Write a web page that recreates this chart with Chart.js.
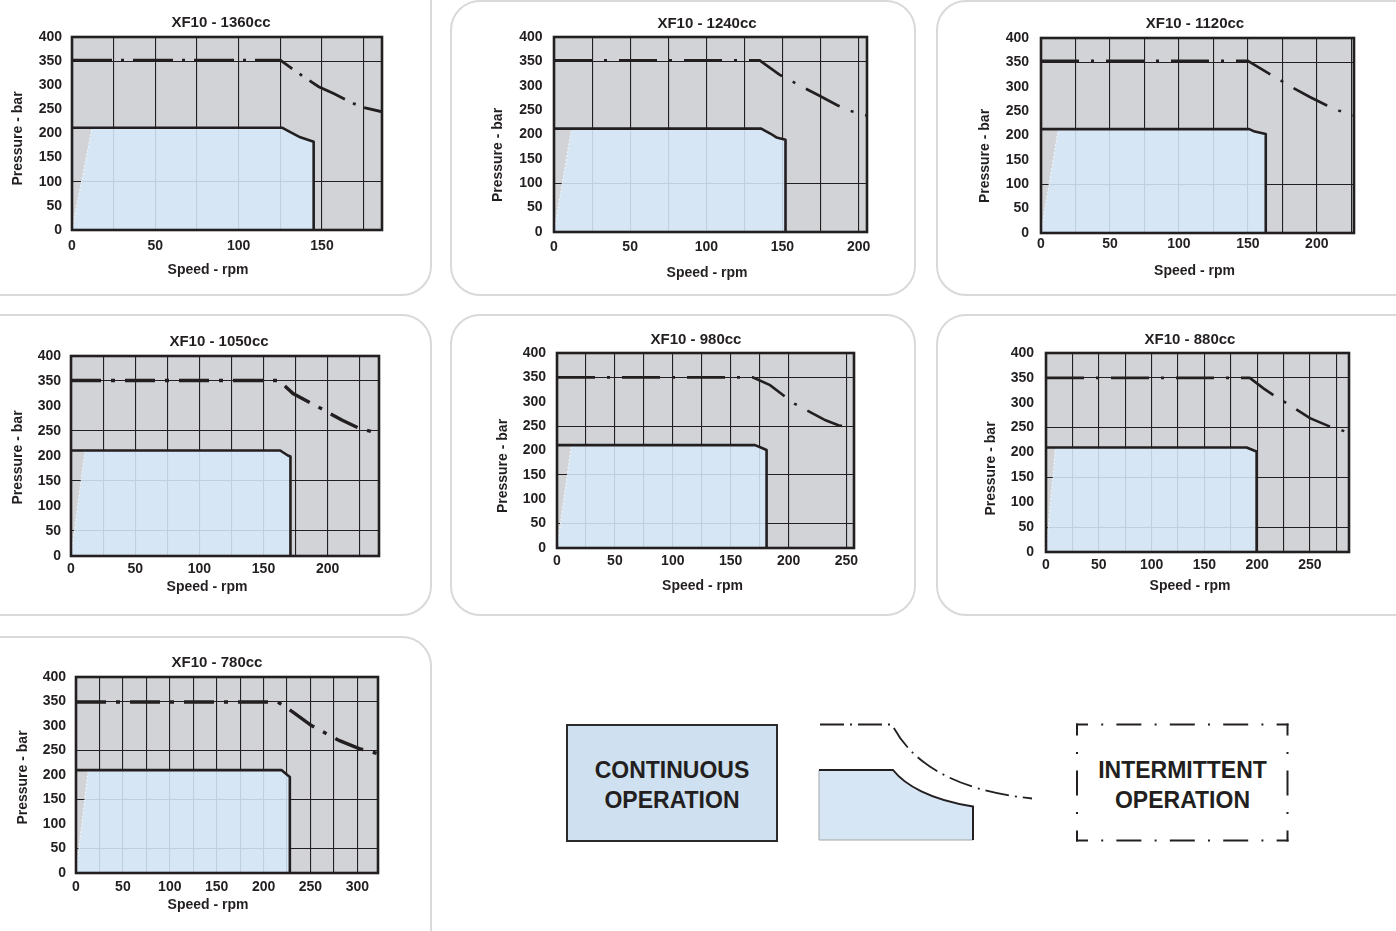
<!DOCTYPE html>
<html lang="en">
<head>
<meta charset="utf-8">
<title>XF10 – Pressure vs Speed</title>
<script src="https://cdn.jsdelivr.net/npm/chart.js@4.4.1/dist/chart.umd.min.js"></script>
<style>
  html, body { margin: 0; padding: 0; background: #fff; }
  body { width: 1396px; height: 931px; overflow: hidden; position: relative;
         font-family: "Liberation Sans", Arial, Helvetica, sans-serif; color: #231f20; }
  .card { position: absolute; box-sizing: border-box; border: 2px solid #d9d9d9; border-radius: 30px; background: #fff; }
  .panel { position: absolute; }
  .key-box { position: absolute; box-sizing: border-box; left: 566px; top: 724px; width: 212px; height: 118px;
             background: #cfe0f1; border: 2px solid #2b2b2b; }
  .key-text { position: absolute; text-align: center; font-weight: bold; font-size: 23px; line-height: 30px; }
  #key { position: absolute; left: 0; top: 0; }
</style>
</head>
<body>

<!-- panel cards -->
<div class="card" style="left:-40px;top:-40px;width:472px;height:336px"></div>
<div class="card" style="left:450px;top:0px;width:466px;height:296px"></div>
<div class="card" style="left:936px;top:0px;width:500px;height:296px"></div>
<div class="card" style="left:-40px;top:314px;width:472px;height:302px"></div>
<div class="card" style="left:450px;top:314px;width:466px;height:302px"></div>
<div class="card" style="left:936px;top:314px;width:500px;height:302px"></div>
<div class="card" style="left:-40px;top:636px;width:472px;height:400px"></div>

<!-- key -->
<div class="key-box"></div>
<svg id="key" width="1396" height="931" viewBox="0 0 1396 931">
  <path d="M819,770 L893,770 C905,785 930,800 973,806.5 L973,840 L819,840 Z" fill="#d6e6f4" stroke="none"/>
  <path d="M819,770 L819,840 L973,840" fill="none" stroke="#a6a6a6" stroke-width="1"/>
  <path d="M819,770 L893,770 C905,785 930,800 973,806.5 L973,840" fill="none" stroke="#231f20" stroke-width="2"/>
  <path d="M820,724.5 L892,724.5 C910,760 950,790 1032,798.5" fill="none" stroke="#231f20" stroke-width="1.8" stroke-dasharray="24 6 2 6"/>
  <g fill="none" stroke="#231f20" stroke-width="2">
    <path d="M1076,724.5 H1288.5" stroke-dasharray="25 13.2 2 13.2" stroke-dashoffset="13"/>
    <path d="M1076,840.5 H1288.5" stroke-dasharray="25 13.2 2 13.2" stroke-dashoffset="13"/>
    <path d="M1077,723.5 V841.5" stroke-dasharray="25 16.5 2 16.5" stroke-dashoffset="13"/>
    <path d="M1287.5,723.5 V841.5" stroke-dasharray="25 16.5 2 16.5" stroke-dashoffset="13"/>
  </g>
</svg>
<div class="key-text" style="left:566px;top:755px;width:212px">CONTINUOUS<br>OPERATION</div>
<div class="key-text" style="left:1077px;top:755px;width:211px">INTERMITTENT<br>OPERATION</div>

<script>
// ---- data: speed in rpm, pressure in bar ----
const titles = ['XF10 - 1360cc', 'XF10 - 1240cc', 'XF10 - 1120cc', 'XF10 - 1050cc', 'XF10 - 980cc', 'XF10 - 880cc', 'XF10 - 780cc'];
const speedMax = [186, 205.5, 227, 240, 256.5, 287, 322];
const rampSpeed = [12, 11.5, 12.5, 11, 12.4, 9, 13];
const pressureMax = 400;
const pressureStep = 50;
const speedLabelStep = 50;
const speedGridStep = 25;
const xAxisTitle = 'Speed - rpm';
const yAxisTitle = 'Pressure - bar';

// continuous operation envelope
const cont1360Speed = [0, 126, 131, 137, 145, 145];
const cont1360Pressure = [212, 212, 203, 192, 183, 0];
const cont1240Speed = [0, 136, 142, 146, 152, 152];
const cont1240Pressure = [212, 212, 202, 194, 189, 0];
const cont1120Speed = [0, 151, 155, 163, 163];
const cont1120Pressure = [213, 213, 208, 203, 0];
const cont1050Speed = [0, 163, 169, 171, 171];
const cont1050Pressure = [211, 211, 201, 199, 0];
const cont980Speed = [0, 171, 177, 181, 181];
const cont980Pressure = [211, 211, 205, 201, 0];
const cont880Speed = [0, 190, 197, 199.5, 199.5];
const cont880Pressure = [210, 210, 204, 202, 0];
const cont780Speed = [0, 219, 226, 228, 228];
const cont780Pressure = [210, 210, 199, 196, 0];

// intermittent operation limit
const int1360Speed = [0, 125, 131, 138, 148, 157, 169, 175, 186];
const int1360Pressure = [352, 352, 337, 320, 297, 283, 262, 254, 245];
const int1240Speed = [0, 135, 148, 164, 174, 186, 196, 205.5];
const int1240Pressure = [352, 352, 323, 296, 280, 260, 247, 239];
const int1120Speed = [0, 150, 166, 182, 195, 207, 216, 227];
const int1120Pressure = [353, 353, 326, 299, 279, 262, 251, 241];
const int1050Speed = [0, 162, 173, 192, 211, 225, 240];
const int1050Pressure = [351, 351, 325, 299, 272, 255, 245];
const int980Speed = [0, 169, 184, 205, 232, 243, 256.5];
const int980Pressure = [350, 350, 334, 296, 262, 252, 244];
const int880Speed = [0, 193, 206, 218.5, 228, 250, 269, 287];
const int880Pressure = [350, 350, 329, 311, 299, 269, 252, 240];
const int780Speed = [0, 215, 231, 251, 281, 302, 322];
const int780Pressure = [349, 349, 329, 301, 270, 254, 243.5];

const contSpeed = [cont1360Speed, cont1240Speed, cont1120Speed, cont1050Speed, cont980Speed, cont880Speed, cont780Speed];
const contPressure = [cont1360Pressure, cont1240Pressure, cont1120Pressure, cont1050Pressure, cont980Pressure, cont880Pressure, cont780Pressure];
const intSpeed = [int1360Speed, int1240Speed, int1120Speed, int1050Speed, int980Speed, int880Speed, int780Speed];
const intPressure = [int1360Pressure, int1240Pressure, int1120Pressure, int1050Pressure, int980Pressure, int880Pressure, int780Pressure];

// ---- layout of each panel (page pixels) ----
const gridSparse = [100, 350];
const gridDense = [50, 150, 250, 350];
const panelLayout = [
  { L: 72,   T: 37,  R: 382,  B: 230, xPad: 7.5, yPad: 10,   hGrid: gridSparse, vSkip: [],    lw: 2.8, dash: [40, 9, 3, 9],  title: [221, 23],    xTitle: [208, 270],    yTitle: [18.5, 138.5] },
  { L: 554,  T: 37,  R: 867,  B: 232, xPad: 6.5, yPad: 11.5, hGrid: gridSparse, vSkip: [],    lw: 2.6, dash: [38, 12, 3, 12], title: [707, 24],    xTitle: [707, 273],    yTitle: [498.5, 155] },
  { L: 1041, T: 38,  R: 1354, B: 233, xPad: 3,   yPad: 12,   hGrid: gridSparse, vSkip: [],    lw: 2.6, dash: [38, 12, 3, 12], title: [1195, 24],   xTitle: [1194.5, 271], yTitle: [985, 156] },
  { L: 71,   T: 356, R: 379,  B: 556, xPad: 5,   yPad: 10,   hGrid: gridDense,  vSkip: [],    lw: 3.4, dash: [30, 10, 4, 10], title: [219, 341.5], xTitle: [207, 587],    yTitle: [18.5, 457.5] },
  { L: 557,  T: 353, R: 854,  B: 548, xPad: 5,   yPad: 11,   hGrid: gridDense,  vSkip: [225], lw: 2.6, dash: [38, 12, 3, 12], title: [696, 340],   xTitle: [702.5, 586],  yTitle: [503.5, 466] },
  { L: 1046, T: 353, R: 1349, B: 552, xPad: 5,   yPad: 12,   hGrid: gridDense,  vSkip: [],    lw: 2.6, dash: [38, 12, 3, 12], title: [1190, 340],  xTitle: [1190, 586],   yTitle: [991.5, 468.5] },
  { L: 76,   T: 677, R: 378,  B: 873, xPad: 5.5, yPad: 10,   hGrid: gridDense,  vSkip: [],    lw: 3.4, dash: [30, 10, 4, 10], title: [217, 662.5], xTitle: [208, 905],    yTitle: [23.5, 777.5] }
];

const INK = '#231f20';
const PLOT_BG = '#d1d3d6';
const ZONE_FILL = 'rgba(214,232,248,0.88)';
const FONT_FAMILY = '"Liberation Sans", Arial, Helvetica, sans-serif';
Chart.defaults.font.family = FONT_FAMILY;

// grey plot background and heavy frame around the plot area
const plotFrame = {
  id: 'plotFrame',
  beforeDraw(chart) {
    const { ctx, chartArea: a } = chart;
    ctx.save();
    ctx.fillStyle = PLOT_BG;
    ctx.fillRect(a.left, a.top, a.right - a.left, a.bottom - a.top);
    ctx.restore();
  },
  afterDatasetsDraw(chart) {
    const { ctx, chartArea: a } = chart;
    ctx.save();
    ctx.strokeStyle = INK;
    ctx.lineWidth = 2.6;
    ctx.strokeRect(a.left, a.top, a.right - a.left, a.bottom - a.top);
    ctx.restore();
  }
};

// panel title and axis titles
const panelText = {
  id: 'panelText',
  afterDraw(chart, args, o) {
    const ctx = chart.ctx;
    ctx.save();
    ctx.fillStyle = INK;
    ctx.textAlign = 'center';
    ctx.textBaseline = 'middle';
    ctx.font = 'bold 15px ' + FONT_FAMILY;
    ctx.fillText(o.title, o.title_x, o.title_y);
    ctx.font = 'bold 14px ' + FONT_FAMILY;
    ctx.fillText(o.xTitle, o.xTitle_x, o.xTitle_y);
    ctx.translate(o.yTitle_x, o.yTitle_y);
    ctx.rotate(-Math.PI / 2);
    ctx.fillText(o.yTitle, 0, 0);
    ctx.restore();
  }
};

const toPoints = (xs, ys) => xs.map((x, k) => ({ x, y: ys[k] }));

titles.forEach((title, i) => {
  const P = panelLayout[i];
  const cx = P.L - 75, cy = P.T - 45;
  const cw = P.R + 30 - cx, ch = P.B + 65 - cy;

  const cv = document.createElement('canvas');
  cv.className = 'panel';
  cv.width = cw; cv.height = ch;
  Object.assign(cv.style, { left: cx + 'px', top: cy + 'px', width: cw + 'px', height: ch + 'px' });
  document.body.appendChild(cv);

  const envelope = toPoints(contSpeed[i], contPressure[i]);
  const ramp = [{ x: 0, y: 0 }, { x: rampSpeed[i], y: contPressure[i][0] }];
  const zone = ramp.concat(envelope.slice(1));
  const limit = toPoints(intSpeed[i], intPressure[i]);
  const max = speedMax[i];
  const tickFont = { family: FONT_FAMILY, size: 14, weight: 'bold' };

  new Chart(cv, {
    type: 'line',
    data: {
      datasets: [
        { label: 'Continuous operation', data: zone, fill: 'origin', backgroundColor: ZONE_FILL,
          borderColor: 'rgba(0,0,0,0)', borderWidth: 0, pointRadius: 0, order: 3 },
        { label: 'Start-up edge', data: ramp, fill: false, borderColor: 'rgba(255,255,255,0.8)',
          borderWidth: 1, borderDash: [2, 2], pointRadius: 0, order: 2 },
        { label: 'Continuous limit', data: envelope, fill: false, borderColor: INK,
          borderWidth: 2.6, pointRadius: 0, order: 1, borderJoinStyle: 'round' },
        { label: 'Intermittent operation', data: limit, fill: false, borderColor: INK,
          borderWidth: P.lw, borderDash: P.dash, pointRadius: 0, order: 0 }
      ]
    },
    options: {
      responsive: false,
      animation: false,
      devicePixelRatio: 1,
      events: [],
      layout: { padding: { left: 0, top: P.T - cy, right: cx + cw - P.R, bottom: 0 } },
      scales: {
        x: {
          type: 'linear', min: 0, max: max,
          afterFit: s => { s.height = cy + ch - P.B; },
          ticks: {
            stepSize: speedGridStep, includeBounds: false, autoSkip: false, maxRotation: 0,
            padding: P.xPad, color: INK, font: tickFont,
            callback: v => (v % speedLabelStep === 0 ? String(v) : '')
          },
          grid: {
            drawTicks: false, lineWidth: 1.1,
            color: c => {
              const v = c.tick ? c.tick.value : 0;
              return (v > 0 && v < max && !P.vSkip.includes(v)) ? INK : 'rgba(0,0,0,0)';
            }
          },
          border: { display: false }
        },
        y: {
          type: 'linear', min: 0, max: pressureMax,
          afterFit: s => { s.width = P.L - cx; },
          ticks: { stepSize: pressureStep, padding: P.yPad, color: INK, font: tickFont },
          grid: {
            drawTicks: false, lineWidth: 1.1,
            color: c => (c.tick && P.hGrid.includes(c.tick.value)) ? INK : 'rgba(0,0,0,0)'
          },
          border: { display: false }
        }
      },
      plugins: {
        legend: { display: false },
        tooltip: { enabled: false },
        panelText: {
          title: title, title_x: P.title[0] - cx, title_y: P.title[1] - cy,
          xTitle: xAxisTitle, xTitle_x: P.xTitle[0] - cx, xTitle_y: P.xTitle[1] - cy,
          yTitle: yAxisTitle, yTitle_x: P.yTitle[0] - cx, yTitle_y: P.yTitle[1] - cy
        }
      }
    },
    plugins: [plotFrame, panelText]
  });
});
</script>
</body>
</html>
